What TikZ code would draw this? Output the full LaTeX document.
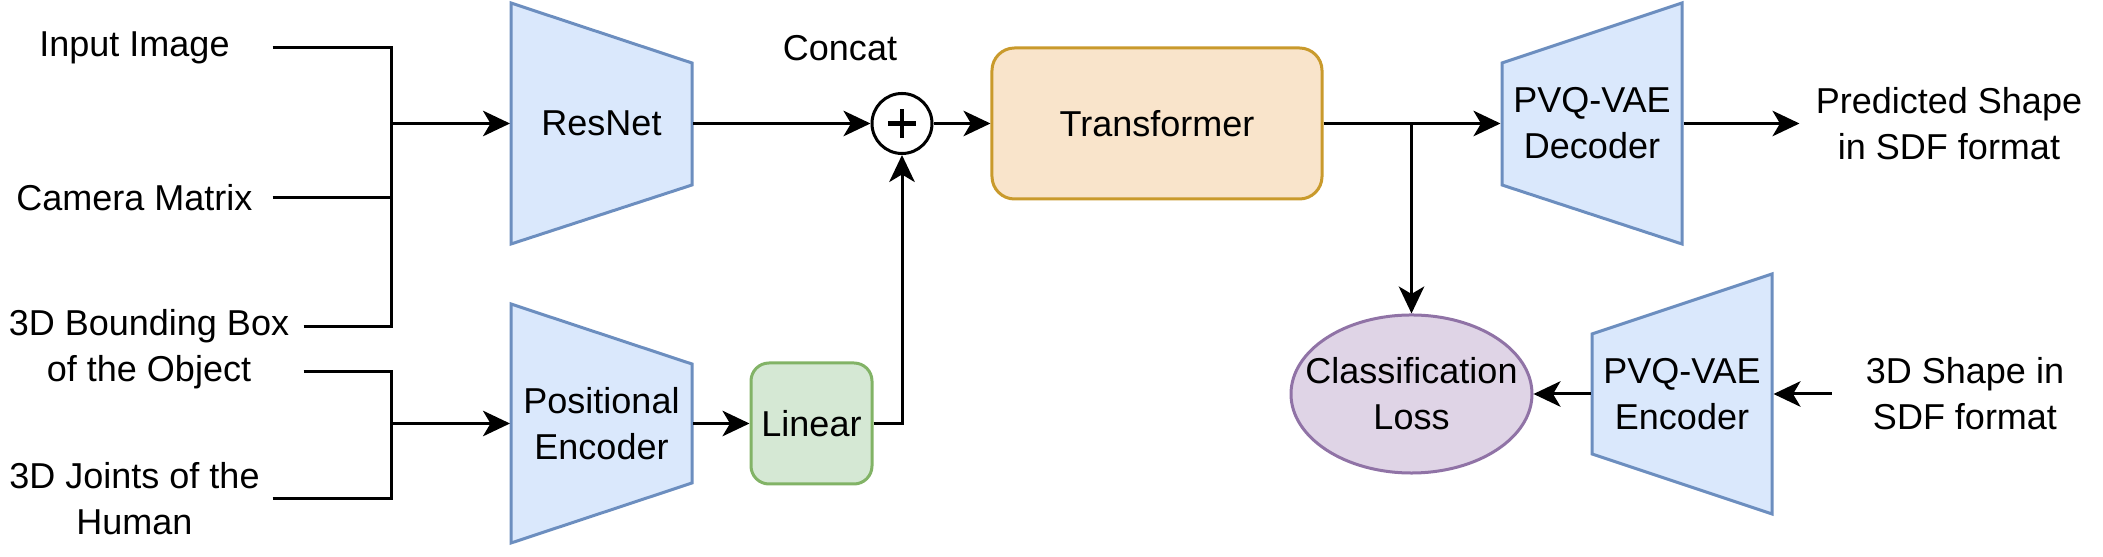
\documentclass[tikz,border=0pt]{standalone}
\usepackage{fontspec}
\setmainfont{Liberation Sans}
\usetikzlibrary{arrows.meta,shapes.geometric}

\definecolor{blfill}{HTML}{DAE8FC}
\definecolor{bldraw}{HTML}{6C8EBF}
\definecolor{orfill}{HTML}{F9E4CB}
\definecolor{ordraw}{HTML}{C99A2C}
\definecolor{grfill}{HTML}{D5E8D4}
\definecolor{grdraw}{HTML}{82B366}
\definecolor{pufill}{HTML}{DFD4E6}
\definecolor{pudraw}{HTML}{9073A6}

\tikzset{
  arr/.style={-{Stealth[length=9pt,width=8.5pt,inset=2.5pt]}},
  lbl/.style={align=center,inner sep=0pt,font=\fontsize{12}{15.4}\selectfont},
  trap/.style={lbl,minimum width=60pt,minimum height=80.33pt},
  trapline/.style={fill=blfill,draw=bldraw},
}

\begin{document}
\begin{tikzpicture}[x=0.3333pt,y=-0.3333pt,line width=1pt]
  \useasboundingbox (0,0) rectangle (2103,557);

  %inputs
  	\node[lbl,minimum width=91pt] (img) at (134.5,48) {Input Image};
  	\node[lbl,minimum width=91pt] (cam) at (134.5,198) {Camera Matrix};
  	\node[lbl,minimum width=102pt] (bbox) at (149,349) {3D Bounding Box\\of the Object};
  	\node[lbl,minimum width=91pt] (joints) at (134.5,499) {3D Joints of the\\Human};

  %trapezoids
  	\filldraw[trapline] (511,3) -- (692,63) -- (692,185) -- (511,244) -- cycle;
  	\node[trap] (resnet) at (601.5,123.5) {ResNet};
  	\filldraw[trapline] (511,304) -- (692,364) -- (692,483) -- (511,543) -- cycle;
  	\node[trap] (posenc) at (601.5,423.5) {Positional\\Encoder};
  	\filldraw[trapline] (1502,63) -- (1682,3) -- (1682,244) -- (1502,185) -- cycle;
  	\node[trap] (dec) at (1592,123.5) {PVQ-VAE\\Decoder};
  	\filldraw[trapline] (1592,334) -- (1772,274) -- (1772,514) -- (1592,454) -- cycle;
  	\node[trap] (enc) at (1682,394) {PVQ-VAE\\Encoder};

  %middle blocks
  	\node[lbl] (concat) at (840,48) {Concat};
  	\node[circle,draw,fill=white,minimum size=20pt,inner sep=0pt] (cat) at (902,123.5) {};
  	\draw[line width=1.6pt] ([xshift=-4.7pt]cat.center) -- ([xshift=4.7pt]cat.center);
  	\draw[line width=1.6pt] ([yshift=-4.7pt]cat.center) -- ([yshift=4.7pt]cat.center);
  	\node[lbl,draw=ordraw,fill=orfill,rounded corners=7.5pt,minimum width=110pt,minimum height=50.33pt] (tf) at (1157,123.5) {Transformer};
  	\node[lbl,draw=grdraw,fill=grfill,rounded corners=6pt,minimum width=40.33pt,minimum height=40.33pt] (lin) at (811.5,423.5) {Linear};
  	\node[ellipse,draw=pudraw,fill=pufill,minimum width=80.33pt,minimum height=52.67pt,inner sep=0pt] (loss) at (1411.5,394) {};
  	\node[lbl] (losstxt) at (loss.center) {Classification\\Loss};

  %outputs
  	\node[lbl,minimum width=98.67pt] (pred) at (1949,123.5) {Predicted Shape\\in SDF format};
  	\node[lbl,minimum width=88pt] (shp) at (1965,394) {3D Shape in\\SDF format};

  %connectors left
  	\coordinate (jtop) at (391,123.5);
  	\coordinate (jbot) at (391,423.5);
  	\draw (img.east) -| (jtop);
  	\draw (cam.east) -| (jtop);
  	\draw ([yshift=7.5pt]bbox.east) -| (jtop);
  	\draw[arr] (jtop) -- (resnet.west);
  	\draw ([yshift=-7.5pt]bbox.east) -| (jbot);
  	\draw (joints.east) -| (jbot);
  	\draw[arr] (jbot) -- (posenc.west);

  %connectors middle
  	\draw[arr] (resnet.east) -- (cat.west);
  	\draw[arr] (cat.east) -- (tf.west);
  	\draw[arr] (posenc.east) -- (lin.west);
  	\draw[arr] (lin.east) -| (cat.south);

  %connectors right
  	\coordinate (jloss) at (1411.5,123.5);
  	\draw[arr] (tf.east) -- (dec.west);
  	\draw[arr] (jloss) -- (loss.north);
  	\draw[arr] (dec.east) -- (pred.west);
  	\draw[arr] (shp.west) -- (enc.east);
  	\draw[arr] (enc.west) -- (loss.east);
\end{tikzpicture}
\end{document}
